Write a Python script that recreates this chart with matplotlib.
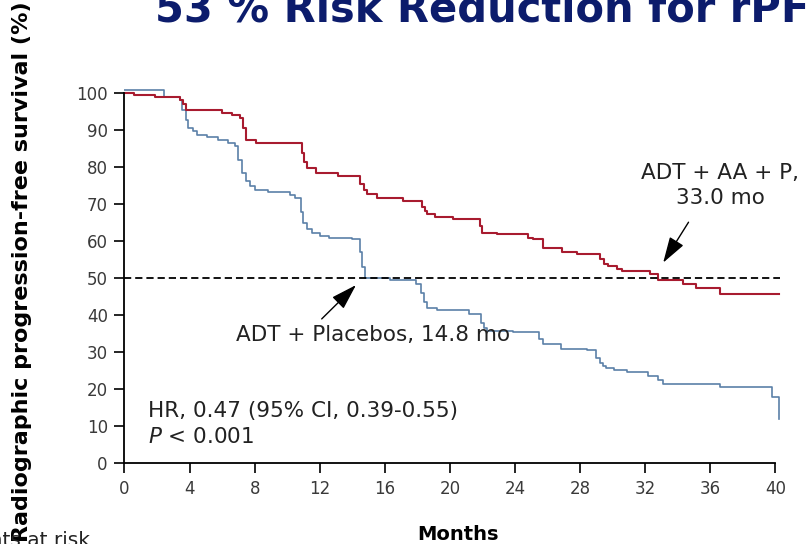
import matplotlib
matplotlib.use("Agg")
import matplotlib.pyplot as plt

# Kaplan-Meier step data: event time (months) and survival (%) after the step
AA_T = [0, 0.6, 1.9, 3.4, 3.6, 3.75, 6.0, 6.6, 7.1, 7.3, 7.45, 8.1, 10.9, 11.05, 11.2,
        11.8, 13.1, 14.5, 14.7, 14.9, 15.5, 17.1, 18.3, 18.45, 18.6, 19.1, 20.2, 21.85,
        22.0, 22.9, 24.8, 25.1, 25.7, 26.9, 27.8, 29.2, 29.5, 29.7, 30.3, 30.6, 32.3,
        32.8, 34.3, 35.1, 36.6, 40.2]
AA_S = [100, 99.5, 99.0, 98.3, 97.0, 95.5, 94.7, 94.2, 93.3, 90.5, 87.5, 86.6, 84.0, 81.5,
        79.9, 78.5, 77.6, 75.5, 74.0, 72.8, 71.8, 70.9, 69.4, 68.2, 67.4, 66.6, 66.0, 64.2,
        62.3, 61.9, 61.0, 60.6, 58.3, 57.0, 56.5, 55.2, 53.8, 53.4, 52.5, 52.0, 51.2, 49.5,
        48.4, 47.4, 45.8, 45.8]

PBO_T = [0, 2.45, 3.4, 3.55, 3.75, 3.9, 4.2, 4.45, 5.05, 5.75, 6.35, 6.8, 7.0, 7.2, 7.45,
         7.7, 8.0, 8.8, 10.2, 10.5, 10.85, 11.0, 11.2, 11.5, 12.0, 12.6, 14.0, 14.45, 14.6,
         14.8, 16.3, 17.9, 18.2, 18.4, 18.6, 19.2, 21.2, 21.9, 22.1, 22.3, 23.9, 25.5, 25.7,
         26.8, 28.4, 29.0, 29.2, 29.4, 29.6, 30.1, 30.9, 32.2, 32.8, 33.1, 36.6, 39.8, 40.2]
PBO_S = [100.8, 99.0, 98.3, 95.5, 92.9, 90.6, 89.8, 88.6, 88.2, 87.5, 86.6, 85.7, 82.0, 78.5,
         76.3, 74.9, 74.0, 73.3, 72.5, 71.8, 68.0, 65.0, 63.2, 62.3, 61.5, 61.0, 60.6, 57.0,
         53.0, 50.1, 49.5, 48.4, 46.0, 43.5, 42.1, 41.4, 40.3, 38.0, 36.5, 35.8, 35.4, 33.5,
         32.3, 31.0, 30.6, 28.5, 27.0, 26.4, 25.8, 25.2, 24.8, 23.7, 22.5, 21.5, 20.6, 17.9,
         12.0]

X_TICKS = list(range(0, 41, 4))
Y_TICKS = list(range(0, 101, 10))
MEDIAN_AA = 33.0
MEDIAN_PBO = 14.8

RED = "#a81b2f"
BLUE = "#5b80a8"
NAVY = "#0c1c6c"
TXT = "#222222"

fig = plt.figure(figsize=(8.1, 5.44), dpi=100)
ax = fig.add_axes([0.1537, 0.1483, 0.8235, 0.6938])

ax.step(PBO_T, PBO_S, where="post", color=BLUE, lw=1.2)
ax.step(AA_T, AA_S, where="post", color=RED, lw=1.5)
ax.plot([0, 40.3], [50, 50], color="black", lw=1.3, dashes=(4, 2.2))

ax.set_xlim(0, 41)
ax.set_ylim(0, 102)
ax.set_xticks(X_TICKS)
ax.set_yticks(Y_TICKS)
for s in ("top", "right"):
    ax.spines[s].set_visible(False)
ax.spines["bottom"].set_bounds(0, 40)
ax.spines["left"].set_bounds(0, 100)
for s in ("bottom", "left"):
    ax.spines[s].set_linewidth(1.3)
ax.tick_params(axis="both", direction="out", length=7, width=1.2,
               labelsize=12, labelcolor="#3a3a3a", pad=5)

# median annotations
ax.text(6.85, 34.7, f"ADT + Placebos, {MEDIAN_PBO} mo", fontsize=15.5, va="center", ha="left",
        color=TXT)
ax.annotate("", xy=(14.35, 48.7), xytext=(12.0, 38.5),
            arrowprops=dict(arrowstyle="-|>,head_length=0.8,head_width=0.25",
                            color="black", lw=1.0, mutation_scale=20))
ax.text(36.6, 75.0, f"ADT + AA + P,\n{MEDIAN_AA} mo", fontsize=15.5, ha="center", va="center",
        linespacing=1.3, color=TXT)
ax.annotate("", xy=(33.02, 53.6), xytext=(34.76, 65.8),
            arrowprops=dict(arrowstyle="-|>,head_length=0.8,head_width=0.25",
                            color="black", lw=1.0, mutation_scale=20))

ax.text(1.44, 14.1, "HR, 0.47 (95% CI, 0.39-0.55)", fontsize=15.5, va="center", color=TXT)
ax.text(1.44, 7.1, r"$P$ < 0.001", fontsize=15.5, va="center", color=TXT)

fig.text(0.027, 0.5, "Radiographic progression-free survival (%)", rotation=90,
         fontsize=16, fontweight="bold", ha="center", va="center")
fig.text(0.565, 1 - 535 / 544, "Months", fontsize=14, fontweight="bold", ha="center", va="center")
fig.text(0.191, 1 - 21 / 544, "53 % Risk Reduction for rPFS", fontsize=30, fontweight="bold",
         color=NAVY, ha="left", va="baseline")
fig.text(90 / 810, 1 - 531 / 544, "Patients at risk", fontsize=14.5, ha="right", va="top",
         color=TXT)

fig.savefig("out.png", dpi=100)
